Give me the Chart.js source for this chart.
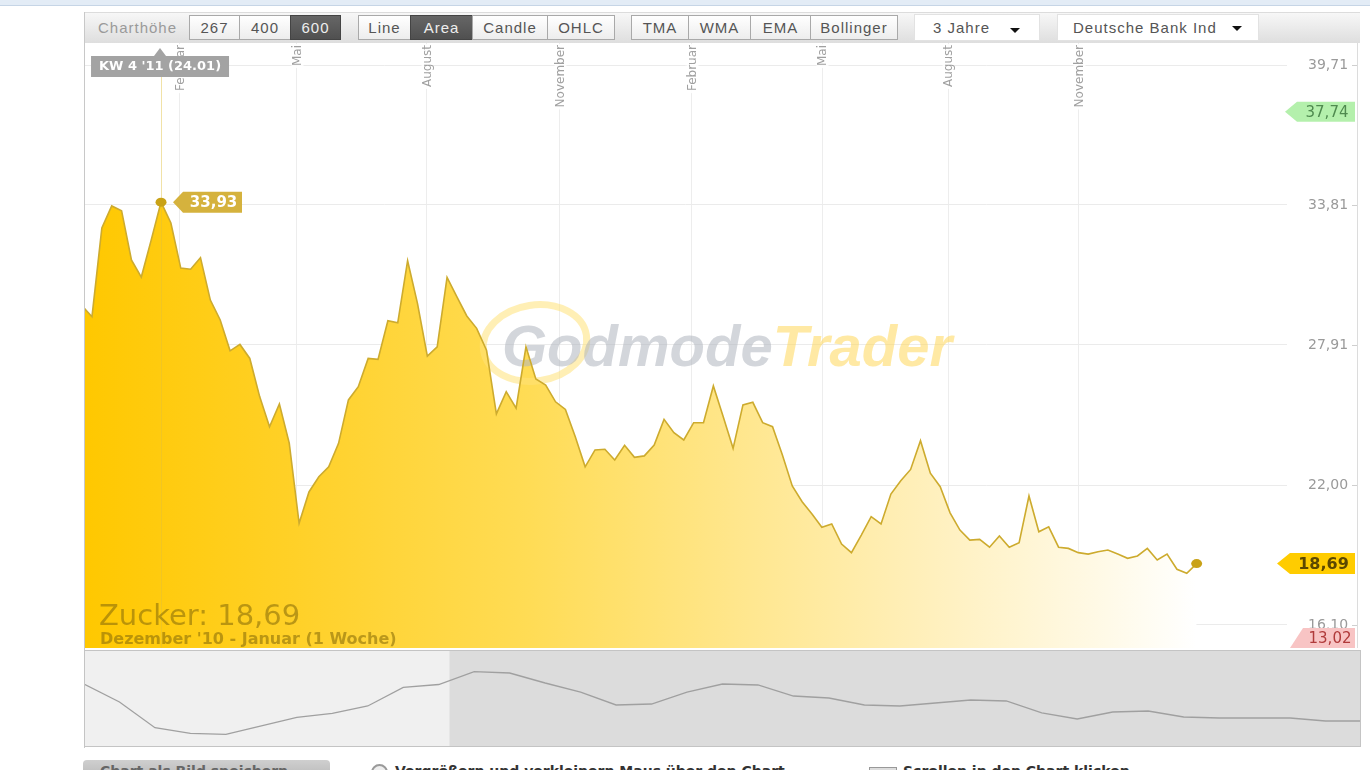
<!DOCTYPE html>
<html>
<head>
<meta charset="utf-8">
<script src="https://cdn.jsdelivr.net/npm/chart.js@4.4.0/dist/chart.umd.min.js"></script>
<style>
  body { margin: 0; background: #fff; font-family: "Liberation Sans", Arial, sans-serif; width: 1370px; height: 770px; overflow: hidden; position: relative; }
  .abs { position: absolute; }
  #topband { left: 0; top: 0; width: 1370px; height: 5px; background: #e3ecf6; border-bottom: 1px solid #c6d5e6; }
  #toolbar { left: 84px; top: 12px; width: 1276px; height: 31px; background: linear-gradient(#f7f7f7, #dedede); border-top: 1px solid #dcdcdc; box-sizing: border-box; }
  #frameL { left: 84px; top: 12px; width: 1px; height: 736px; background: #c8c8c8; }
  #frameR { left: 1357px; top: 43px; width: 1px; height: 605px; background: #dcdcdc; }
  .lbl { top: 19px; font-size: 15px; letter-spacing: 1px; color: #9a9a9a; }
  .btn { top: 15px; height: 25px; line-height: 23px; border: 1px solid #a9a9a9; background: linear-gradient(#ffffff, #ededed); color: #555; font-size: 15px; letter-spacing: 1px; text-align: center; box-sizing: border-box; }
  .btn.on { background: linear-gradient(#666, #505050); color: #eee; border-color: #444; }
  .drop { top: 14px; height: 27px; line-height: 25px; background: #fff; border: 1px solid #e2e2e2; color: #555; font-size: 15px; letter-spacing: 1px; box-sizing: border-box; padding-left: 18px; }
  .caret { width: 0; height: 0; border-left: 5px solid transparent; border-right: 5px solid transparent; border-top: 5px solid #111; }
  #mainWrap { left: 84px; top: 43px; width: 1276px; height: 605px; }
  #navWrap { left: 84px; top: 650px; width: 1277px; height: 97px; }
  #zucker { left: 99px; top: 598px; font-family: "DejaVu Sans", sans-serif; font-size: 29px; color: rgba(140, 112, 10, 0.6); white-space: nowrap; }
  #period { left: 100px; top: 629px; font-family: "DejaVu Sans", sans-serif; font-size: 16px; font-weight: bold; color: rgba(140, 112, 10, 0.6); white-space: nowrap; }
  .foot { top: 763px; font-family: "DejaVu Sans", sans-serif; font-size: 14px; font-weight: bold; color: #333; white-space: nowrap; }
</style>
</head>
<body>
<div id="topband" class="abs"></div>
<div id="toolbar" class="abs"></div>
<div class="abs lbl" style="left:98px">Charthöhe</div>
<div class="abs btn" style="left:189px;width:51px">267</div>
<div class="abs btn" style="left:239px;width:52px">400</div>
<div class="abs btn on" style="left:290px;width:51px">600</div>
<div class="abs btn" style="left:358px;width:53px">Line</div>
<div class="abs btn on" style="left:410px;width:63px">Area</div>
<div class="abs btn" style="left:472px;width:76px">Candle</div>
<div class="abs btn" style="left:547px;width:68px">OHLC</div>
<div class="abs btn" style="left:631px;width:58px">TMA</div>
<div class="abs btn" style="left:688px;width:63px">WMA</div>
<div class="abs btn" style="left:750px;width:61px">EMA</div>
<div class="abs btn" style="left:810px;width:88px">Bollinger</div>
<div class="abs drop" style="left:914px;width:126px">3 Jahre</div>
<div class="abs caret" style="left:1010px;top:28px"></div>
<div class="abs drop" style="left:1057px;width:202px;padding-left:15px">Deutsche Bank Ind</div>
<div class="abs caret" style="left:1232px;top:26px"></div>

<div id="mainWrap" class="abs"><canvas id="mainChart" width="1276" height="605"></canvas></div>
<div id="zucker" class="abs">Zucker: 18,69</div>
<div id="period" class="abs">Dezember '10 - Januar (1 Woche)</div>
<div id="frameL" class="abs"></div>
<div id="frameR" class="abs"></div>
<div id="navWrap" class="abs"><canvas id="navChart" width="1277" height="97"></canvas></div>

<div class="abs" style="left:83px;top:760px;width:247px;height:22px;border-radius:4px 4px 0 0;background:linear-gradient(#cfcfcf,#b4b4b4)"></div>
<div class="abs foot" style="left:100px;color:#666">Chart als Bild speichern</div>
<div class="abs" style="left:371px;top:764px;width:13px;height:13px;border:2px solid #9a9a9a;border-radius:50%;background:#eee"></div>
<div class="abs foot" style="left:395px">Vergrößern und verkleinern Maus über den Chart</div>
<div class="abs" style="left:869px;top:767px;width:26px;height:9px;border:1px solid #999;background:#ddd"></div>
<div class="abs foot" style="left:903px">Scrollen in den Chart klicken</div>

<script>
// Wochenkurse Zucker, Dezember '10 bis Januar '13
const weekValues = [
  29.55, 29.10, 32.84, 33.77, 33.57, 31.49, 30.77, 32.33, 33.93, 33.05,
  31.15, 31.10, 31.59, 29.80, 28.96, 27.66, 27.93, 27.34, 25.73, 24.46,
  25.42, 23.77, 20.39, 21.71, 22.35, 22.77, 23.76, 25.59, 26.15, 27.34,
  27.30, 28.93, 28.84, 31.46, 29.66, 27.44, 27.83, 30.76, 29.94, 29.13,
  28.61, 27.69, 25.00, 25.94, 25.24, 27.83, 26.47, 26.22, 25.51, 25.19,
  24.04, 22.77, 23.48, 23.51, 23.06, 23.68, 23.17, 23.23, 23.69, 24.77,
  24.21, 23.90, 24.63, 24.63, 26.18, 24.88, 23.55, 25.38, 25.49, 24.63,
  24.46, 23.27, 21.96, 21.30, 20.78, 20.22, 20.36, 19.51, 19.15, 19.89,
  20.67, 20.36, 21.62, 22.18, 22.66, 23.87, 22.50, 21.93, 20.83, 20.10,
  19.68, 19.71, 19.38, 19.85, 19.38, 19.57, 21.54, 20.03, 20.24, 19.38,
  19.33, 19.15, 19.09, 19.19, 19.26, 19.09, 18.91, 19.01, 19.33, 18.84,
  19.09, 18.45, 18.28, 18.69
];
// Monatslinien (Position in Wochen)
const monthTicks = [9.92, 21.78, 34.96, 48.45, 61.83, 75.02, 87.79, 101.07];
const monthLabels = ['Februar', 'Mai', 'August', 'November', 'Februar', 'Mai', 'August', 'November'];
const yTicks = [16.10, 22.00, 27.91, 33.81, 39.71];
const xMin = 0.19, xMax = 122.16;
const yMin = 15.13, yMax = 40.64;

const hoverIndex = 8;
const hoverLabel = "KW 4 '11 (24.01)";
const highValue = 37.74;
const lowValue = 13.02;

// Navigator (3 Jahre, monatlich)
const navValues = [
  28.54, 23.75, 16.92, 15.43, 15.16, 17.37, 19.68, 20.75, 22.69, 27.66,
  28.41, 31.81, 31.47, 28.81, 26.41, 22.96, 23.22, 26.41, 28.54, 28.28,
  25.35, 24.82, 22.96, 22.69, 23.49, 24.29, 24.02, 20.83, 19.23, 21.09,
  21.36, 19.76, 19.50, 19.50, 19.50, 18.70, 18.70
];
const navWindowStart = 10.3;
const navMin = 11.78, navMax = 37.59;

const fmt = v => v.toFixed(2).replace('.', ',');

function areaGradient(c) {
  const chart = c.chart;
  const area = chart.chartArea;
  if (!area) return 'rgba(255,204,0,0.8)';
  const endX = chart.scales.x.getPixelForValue(weekValues.length - 1);
  const g = chart.ctx.createLinearGradient(area.left, 0, endX, 0);
  g.addColorStop(0, '#ffc800');
  g.addColorStop(0.2, '#ffd12a');
  g.addColorStop(0.4, '#ffdc55');
  g.addColorStop(0.6, '#ffe790');
  g.addColorStop(0.78, '#fff1c2');
  g.addColorStop(0.92, '#fffae8');
  g.addColorStop(1, '#ffffff');
  return g;
}

// Pfeil-Etikett (Spitze links)
function badge(ctx, tipX, y, bodyX, right, h, bg, fg, text, font) {
  ctx.save();
  ctx.fillStyle = bg;
  ctx.beginPath();
  ctx.moveTo(tipX, y);
  ctx.lineTo(bodyX, y - h / 2);
  ctx.lineTo(right, y - h / 2);
  ctx.lineTo(right, y + h / 2);
  ctx.lineTo(bodyX, y + h / 2);
  ctx.closePath();
  ctx.fill();
  ctx.fillStyle = fg;
  ctx.font = font;
  ctx.textAlign = 'center';
  ctx.textBaseline = 'middle';
  ctx.fillText(text, (bodyX + right) / 2 + 1, y + 1);
  ctx.restore();
}

const decor = {
  id: 'decor',
  beforeDatasetsDraw(chart) {
    // Wasserzeichen
    const ctx = chart.ctx;
    const a = chart.chartArea;
    const cx = a.left + 451, cy = a.top + 300;
    ctx.save();
    ctx.strokeStyle = 'rgba(255,226,120,0.55)';
    ctx.lineWidth = 7;
    ctx.beginPath();
    ctx.ellipse(cx, cy, 52, 38, -0.15, 0, Math.PI * 2);
    ctx.stroke();
    ctx.font = 'italic bold 58px "Liberation Sans", Arial';
    ctx.textBaseline = 'alphabetic';
    ctx.fillStyle = 'rgba(175,180,190,0.55)';
    ctx.fillText('Godmode', a.left + 418, a.top + 323);
    const w = ctx.measureText('Godmode').width;
    ctx.fillStyle = 'rgba(255,215,90,0.55)';
    ctx.fillText('Trader', a.left + 418 + w, a.top + 323);
    ctx.restore();
  },
  afterDraw(chart) {
    const ctx = chart.ctx;
    const a = chart.chartArea;
    const xs = chart.scales.x, ys = chart.scales.y;

    // Monatsbeschriftung
    ctx.save();
    ctx.font = '12px "DejaVu Sans", Arial';
    monthTicks.forEach((m, i) => {
      const px = Math.round(xs.getPixelForValue(m)) + 0.5;
      const w = ctx.measureText(monthLabels[i]).width;
      ctx.save();
      ctx.translate(px, a.top + 2);
      ctx.rotate(-Math.PI / 2);
      ctx.fillStyle = 'rgba(255,255,255,0.85)';
      ctx.fillRect(-w - 2, -6, w + 3, 12);
      ctx.fillStyle = '#a0a0a0';
      ctx.textAlign = 'right';
      ctx.textBaseline = 'middle';
      ctx.fillText(monthLabels[i], 0, 0);
      ctx.restore();
    });
    ctx.restore();

    // kleine Striche rechts neben den Kurslabels
    ctx.save();
    ctx.strokeStyle = '#cfcfcf';
    ctx.lineWidth = 1;
    yTicks.forEach(t => {
      const py = Math.round(ys.getPixelForValue(t)) + 0.5;
      ctx.beginPath();
      ctx.moveTo(a.right + 65, py);
      ctx.lineTo(a.right + 70, py);
      ctx.stroke();
    });
    ctx.restore();

    // Fadenkreuz
    const hx = xs.getPixelForValue(hoverIndex);
    const hy = ys.getPixelForValue(weekValues[hoverIndex]);
    ctx.save();
    ctx.strokeStyle = 'rgba(225,190,60,0.45)';
    ctx.lineWidth = 1;
    ctx.beginPath();
    ctx.moveTo(Math.round(hx) + 0.5, a.top + 34);
    ctx.lineTo(Math.round(hx) + 0.5, a.bottom);
    ctx.stroke();
    ctx.restore();

    // Punkte
    ctx.save();
    ctx.fillStyle = '#c9a217';
    [hoverIndex, weekValues.length - 1].forEach(i => {
      ctx.beginPath();
      ctx.ellipse(xs.getPixelForValue(i), ys.getPixelForValue(weekValues[i]), 5.5, 4.5, 0, 0, Math.PI * 2);
      ctx.fill();
    });
    ctx.restore();

    badge(ctx, hx + 12, hy, hx + 22, hx + 81, 21, '#d5b23d', '#fff', fmt(weekValues[hoverIndex]), 'bold 15px "DejaVu Sans", Arial');

    // Datums-Tooltip
    ctx.save();
    ctx.fillStyle = '#a3a3a3';
    ctx.beginPath();
    ctx.moveTo(hx - 1, a.top + 5);
    ctx.lineTo(hx + 5, a.top + 13);
    ctx.lineTo(hx - 7, a.top + 13);
    ctx.closePath();
    ctx.fill();
    ctx.fillRect(hx - 70, a.top + 13, 138, 21);
    ctx.fillStyle = '#fff';
    ctx.font = 'bold 13px "DejaVu Sans", Arial';
    ctx.textAlign = 'center';
    ctx.textBaseline = 'middle';
    ctx.fillText(hoverLabel, hx - 1, a.top + 24);
    ctx.restore();

    // Hoch / aktuell / Tief
    badge(ctx, a.right - 2, ys.getPixelForValue(highValue), a.right + 10, a.right + 68, 20, '#b4f0ac', '#4f8a4f', fmt(highValue), '15px "DejaVu Sans", Arial');
    const last = weekValues[weekValues.length - 1];
    badge(ctx, a.right - 10, ys.getPixelForValue(last), a.right + 3, a.right + 68, 21, '#ffcc00', '#5c4800', fmt(last), 'bold 16px "DejaVu Sans", Arial');
    const lowY = Math.min(ys.getPixelForValue(lowValue), a.bottom);
    ctx.save();
    ctx.fillStyle = '#f8c4c4';
    ctx.beginPath();
    ctx.moveTo(a.right + 3, lowY);
    ctx.lineTo(a.right + 16, lowY - 20);
    ctx.lineTo(a.right + 68, lowY - 20);
    ctx.lineTo(a.right + 68, lowY);
    ctx.closePath();
    ctx.fill();
    ctx.fillStyle = '#b03a3a';
    ctx.font = '15px "DejaVu Sans", Arial';
    ctx.textAlign = 'center';
    ctx.textBaseline = 'middle';
    ctx.fillText(fmt(lowValue), a.right + 43, lowY - 9);
    ctx.restore();
  }
};

new Chart(document.getElementById('mainChart'), {
  type: 'line',
  data: {
    datasets: [{
      data: weekValues.map((v, i) => ({ x: i, y: v })),
      borderColor: '#cdab2e',
      borderWidth: 1.6,
      pointRadius: 0,
      tension: 0,
      fill: 'start',
      backgroundColor: areaGradient
    }]
  },
  options: {
    responsive: false,
    animation: false,
    devicePixelRatio: 1,
    layout: { padding: 0 },
    scales: {
      x: {
        type: 'linear',
        min: xMin,
        max: xMax,
        z: 1,
        afterBuildTicks: s => { s.ticks = monthTicks.map(v => ({ value: v })); },
        ticks: { display: false },
        grid: { color: 'rgba(0,0,0,0.07)', drawTicks: false },
        border: { display: false }
      },
      y: {
        position: 'right',
        min: yMin,
        max: yMax,
        afterBuildTicks: s => { s.ticks = yTicks.map(v => ({ value: v })); },
        afterFit: s => { s.width = 73; s.paddingTop = 0; s.paddingBottom = 0; },
        ticks: {
          callback: v => fmt(v),
          color: '#9a9a9a',
          font: { family: 'DejaVu Sans', size: 14 },
          crossAlign: 'near',
          padding: 0
        },
        grid: { color: '#ebebeb', drawTicks: true, tickLength: 21, tickColor: 'rgba(0,0,0,0)' },
        border: { display: false }
      }
    },
    plugins: {
      legend: { display: false },
      tooltip: { enabled: false },
      filler: { drawTime: 'beforeDatasetsDraw' }
    }
  },
  plugins: [decor]
});

const navShade = {
  id: 'navShade',
  beforeDraw(chart) {
    const ctx = chart.ctx;
    const a = chart.chartArea;
    const wx = chart.scales.x.getPixelForValue(navWindowStart);
    ctx.save();
    ctx.fillStyle = '#f0f0f0';
    ctx.fillRect(a.left, a.top, wx - a.left, a.bottom - a.top);
    ctx.fillStyle = '#dcdcdc';
    ctx.fillRect(wx, a.top, a.right - wx, a.bottom - a.top);
    ctx.restore();
  },
  afterDraw(chart) {
    const ctx = chart.ctx;
    ctx.save();
    ctx.strokeStyle = '#c4c4c4';
    ctx.strokeRect(0.5, 0.5, chart.width - 1, chart.height - 1);
    ctx.restore();
  }
};

new Chart(document.getElementById('navChart'), {
  type: 'line',
  data: {
    datasets: [{
      data: navValues.map((v, i) => ({ x: i, y: v })),
      borderColor: '#a0a0a0',
      borderWidth: 1.3,
      pointRadius: 0,
      tension: 0,
      fill: false
    }]
  },
  options: {
    responsive: false,
    animation: false,
    devicePixelRatio: 1,
    layout: { padding: 0 },
    scales: {
      x: { type: 'linear', display: false, min: 0, max: navValues.length - 1 },
      y: { display: false, min: navMin, max: navMax }
    },
    plugins: { legend: { display: false }, tooltip: { enabled: false } }
  },
  plugins: [navShade]
});
</script>
</body>
</html>
